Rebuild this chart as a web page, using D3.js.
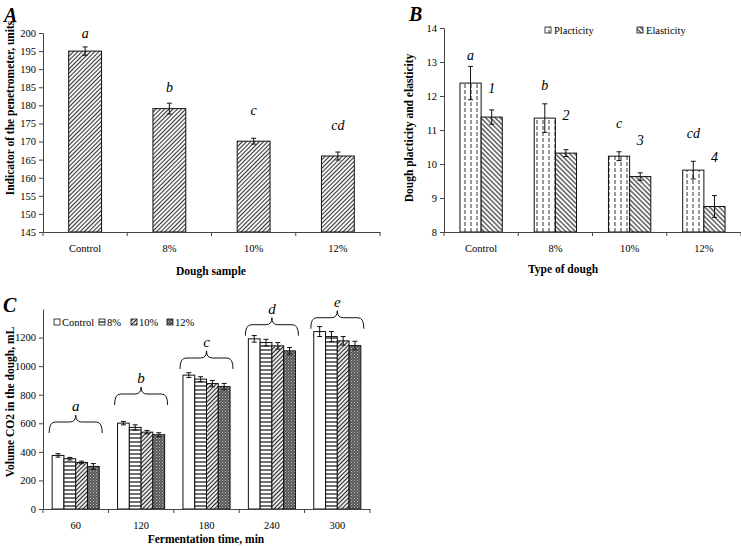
<!DOCTYPE html>
<html><head><meta charset="utf-8">
<script src="https://cdn.jsdelivr.net/npm/d3@7"></script>
<style>
body{margin:0;background:#fff}
svg{display:block}
svg text{font-family:"Liberation Serif","Times New Roman",serif !important;fill:#000}
</style>
</head><body>
<svg id="chart" width="741" height="546"></svg>
<script>
// ---------- DATA ----------
const doughCats = ["Control", "8%", "10%", "12%"];

// Panel A
const penetrometer = [195.0, 179.1, 170.1, 166.0];
const penetrometerErr = [1.15, 1.5, 0.8, 1.1];
const penetrometerLetters = ["a", "b", "c", "cd"];
const penetrometerLetterAt = [200.0, 185.1, 178.7, 174.6];
const yTicksA = [145, 150, 155, 160, 165, 170, 175, 180, 185, 190, 195, 200];

// Panel B
const seriesB = ["Placticity", "Elasticity"];
const plasticity = [12.38, 11.35, 10.23, 9.82];
const plasticityErr = [0.49, 0.42, 0.13, 0.26];
const elasticity = [11.38, 10.32, 9.63, 8.75];
const elasticityErr = [0.21, 0.10, 0.11, 0.32];
const plasticityLetters = ["a", "b", "c", "cd"];
const elasticityLetters = ["1", "2", "3", "4"];
const plasticityLetterAt = [13.2, 12.32, 11.2, 10.9];
const elasticityLetterAt = [12.24, 11.44, 10.7, 10.2];
const yTicksB = [8, 9, 10, 11, 12, 13, 14];

// Panel C
const times = ["60", "120", "180", "240", "300"];
const seriesC = ["Control", "8%", "10%", "12%"];
const co2Control = [375, 601, 937, 1191, 1242];
const co2P8 = [352, 571, 909, 1165, 1207];
const co2P10 = [326, 538, 878, 1142, 1177];
const co2P12 = [298, 520, 857, 1107, 1144];
const co2ControlErr = [12, 12, 17, 23, 35];
const co2P8Err = [9, 18, 17, 23, 35];
const co2P10Err = [9, 12, 22, 23, 30];
const co2P12Err = [20, 14, 22, 23, 30];
const groupLetters = ["a", "b", "c", "d", "e"];
const braceAt = [532, 728, 980, 1213, 1262];
const yTicksC = [0, 200, 400, 600, 800, 1000, 1200];

// ---------- SETUP ----------
const SERIF = '"Liberation Serif","Times New Roman",serif';
const svg = d3.select("#chart");
const defs = svg.append("defs");

function hatch(id, angle, gap, stroke, bg, sw) {
  const p = defs.append("pattern").attr("id", id).attr("patternUnits", "userSpaceOnUse")
    .attr("width", gap).attr("height", gap).attr("patternTransform", `rotate(${angle})`);
  p.append("rect").attr("width", gap).attr("height", gap).attr("fill", bg);
  p.append("line").attr("x1", gap / 2).attr("y1", 0).attr("x2", gap / 2).attr("y2", gap)
    .attr("stroke", stroke).attr("stroke-width", sw);
}
hatch("hatchA", 45, 3, "#333", "#fff", 1.1);
hatch("hatchEl", -45, 3.4, "#222", "#fff", 1.1);
hatch("hatch10", 45, 3, "#222", "#fff", 1.2);
(function () {
  const p = defs.append("pattern").attr("id", "horiz").attr("patternUnits", "userSpaceOnUse")
    .attr("width", 4).attr("height", 4);
  p.append("rect").attr("width", 4).attr("height", 4).attr("fill", "#fff");
  p.append("line").attr("x1", 0).attr("y1", 2).attr("x2", 4).attr("y2", 2).attr("stroke", "#111").attr("stroke-width", 1.2);
})();
(function () {
  const p = defs.append("pattern").attr("id", "vdash").attr("patternUnits", "userSpaceOnUse")
    .attr("width", 6).attr("height", 6);
  p.append("rect").attr("width", 6).attr("height", 6).attr("fill", "#fff");
  p.append("line").attr("x1", 3).attr("y1", 0).attr("x2", 3).attr("y2", 4).attr("stroke", "#333").attr("stroke-width", 1);
})();
(function () {
  const p = defs.append("pattern").attr("id", "dark").attr("patternUnits", "userSpaceOnUse")
    .attr("width", 3).attr("height", 3);
  p.append("rect").attr("width", 3).attr("height", 3).attr("fill", "#5a5a5a");
  p.append("rect").attr("x", 0).attr("y", 0).attr("width", 1).attr("height", 1).attr("fill", "#bbb");
  p.append("rect").attr("x", 1.5).attr("y", 1.5).attr("width", 1).attr("height", 1).attr("fill", "#999");
})();

const AX = "#444";
const TICKFONT = 10.5;

function styleAxis(g) {
  g.attr("font-family", SERIF);
  g.selectAll("path.domain").attr("stroke", AX);
  g.selectAll(".tick line").attr("stroke", AX);
  g.selectAll("text").style("font-family", SERIF).attr("font-size", TICKFONT).attr("fill", "#000");
}

function catAxis(xBand, yPix, pad) {
  const g = svg.append("g").attr("transform", `translate(0,${yPix})`)
    .call(d3.axisBottom(xBand).tickSize(0).tickPadding(pad));
  styleAxis(g);
  const bounds = xBand.domain().map(d => xBand(d)).concat([xBand.range()[1]]);
  g.selectAll("line.bnd").data(bounds).enter().append("line").attr("class", "bnd")
    .attr("x1", d => d).attr("x2", d => d).attr("y1", 0).attr("y2", 4).attr("stroke", AX);
  return g;
}

function errBar(g, x, yTop, yBot, cap) {
  g.append("line").attr("x1", x).attr("x2", x).attr("y1", yTop).attr("y2", yBot).attr("stroke", "#111").attr("stroke-width", 1);
  g.append("line").attr("x1", x - cap).attr("x2", x + cap).attr("y1", yTop).attr("y2", yTop).attr("stroke", "#111");
  g.append("line").attr("x1", x - cap).attr("x2", x + cap).attr("y1", yBot).attr("y2", yBot).attr("stroke", "#111");
}

function panelLetter(x, y, t) {
  svg.append("text").attr("x", x).attr("y", y).attr("font-size", 20).attr("font-weight", "bold")
    .attr("font-style", "italic").text(t);
}
function yTitle(x, y, t) {
  svg.append("text").attr("transform", `translate(${x},${y}) rotate(-90)`).attr("text-anchor", "middle")
    .attr("font-size", 11.5).attr("font-weight", "bold").text(t);
}
function xTitle(x, y, t) {
  svg.append("text").attr("x", x).attr("y", y).attr("text-anchor", "middle")
    .attr("font-size", 11.5).attr("font-weight", "bold").text(t);
}
function italicLabel(x, y, t, size) {
  svg.append("text").attr("x", x).attr("y", y).attr("text-anchor", "middle").attr("dy", "0.35em")
    .attr("font-size", size || 14).attr("font-style", "italic").text(t);
}

// ---------- PANEL A ----------
{
  const x = d3.scaleBand().domain(doughCats).range([43, 380]).padding(0);
  const y = d3.scaleLinear().domain([145, 200]).range([232, 33]);
  const bw = x.step() * 0.39;
  const g = svg.append("g");
  doughCats.forEach((c, i) => {
    const cx = x(c) + x.bandwidth() / 2;
    g.append("rect").attr("x", cx - bw / 2).attr("y", y(penetrometer[i])).attr("width", bw)
      .attr("height", y(145) - y(penetrometer[i])).attr("fill", "url(#hatchA)").attr("stroke", "#111").attr("stroke-width", 1);
    errBar(g, cx, y(penetrometer[i] + penetrometerErr[i]), y(penetrometer[i] - penetrometerErr[i]), 2.5);
    italicLabel(cx, y(penetrometerLetterAt[i]), penetrometerLetters[i]);
  });
  const ya = svg.append("g").attr("transform", "translate(43,0)")
    .call(d3.axisLeft(y).tickValues(yTicksA).tickFormat(d3.format("d")).tickSize(4).tickSizeOuter(0).tickPadding(3));
  styleAxis(ya);
  catAxis(x, 232, 13);
  panelLetter(4, 22, "A");
  yTitle(14, 108, "Indicator of the penetrometer, units");
  xTitle(211, 275, "Dough sample");
}

// ---------- PANEL B ----------
{
  const x = d3.scaleBand().domain(doughCats).range([444, 741]).padding(0);
  const y = d3.scaleLinear().domain([8, 14]).range([232, 28]);
  const inner = d3.scaleBand().domain(seriesB).range([-x.step() * 0.285, x.step() * 0.285]).padding(0);
  const fills = ["url(#vdash)", "url(#hatchEl)"];
  const vals = [plasticity, elasticity];
  const errs = [plasticityErr, elasticityErr];
  const letters = [plasticityLetters, elasticityLetters];
  const letterAt = [plasticityLetterAt, elasticityLetterAt];
  const g = svg.append("g");
  doughCats.forEach((c, i) => {
    const cx = x(c) + x.bandwidth() / 2;
    seriesB.forEach((s, j) => {
      const bx = cx + inner(s);
      const v = vals[j][i];
      g.append("rect").attr("x", bx).attr("y", y(v)).attr("width", inner.bandwidth())
        .attr("height", y(8) - y(v)).attr("fill", fills[j]).attr("stroke", "#111").attr("stroke-width", 1);
      const mx = bx + inner.bandwidth() / 2;
      errBar(g, mx, y(v + errs[j][i]), y(v - errs[j][i]), 2.5);
      italicLabel(mx, y(letterAt[j][i]), letters[j][i]);
    });
  });
  const ya = svg.append("g").attr("transform", "translate(444,0)")
    .call(d3.axisLeft(y).tickValues(yTicksB).tickFormat(d3.format("d")).tickSize(4).tickSizeOuter(0).tickPadding(3));
  styleAxis(ya);
  catAxis(x, 232, 13);
  panelLetter(409, 21, "B");
  yTitle(413, 128, "Dough placticity and elasticity");
  xTitle(563, 273, "Type of dough");
  const lx = [545, 637];
  seriesB.forEach((s, j) => {
    svg.append("rect").attr("x", lx[j]).attr("y", 27).attr("width", 6).attr("height", 6)
      .attr("fill", fills[j]).attr("stroke", "#111").attr("stroke-width", 0.8);
    svg.append("text").attr("x", lx[j] + 9).attr("y", 30).attr("dy", "0.35em").attr("font-size", TICKFONT).text(s);
  });
}

// ---------- PANEL C ----------
{
  const x = d3.scaleBand().domain(times).range([43, 370]).padding(0);
  const y = d3.scaleLinear().domain([0, 1400]).range([509, 309]);
  const inner = d3.scaleBand().domain(seriesC).range([-x.step() * 0.36, x.step() * 0.36]).padding(0);
  const fills = ["#fff", "url(#horiz)", "url(#hatch10)", "url(#dark)"];
  const vals = [co2Control, co2P8, co2P10, co2P12];
  const errs = [co2ControlErr, co2P8Err, co2P10Err, co2P12Err];
  const g = svg.append("g");
  times.forEach((t, i) => {
    const cx = x(t) + x.bandwidth() / 2;
    seriesC.forEach((s, j) => {
      const bx = cx + inner(s);
      const v = vals[j][i];
      g.append("rect").attr("x", bx).attr("y", y(v)).attr("width", inner.bandwidth())
        .attr("height", y(0) - y(v)).attr("fill", fills[j]).attr("stroke", "#111").attr("stroke-width", 1);
      errBar(g, bx + inner.bandwidth() / 2, y(v + errs[j][i]), y(v - errs[j][i]), 2.5);
    });
    const x0 = cx + inner.range()[0] - 3, x1 = cx + inner.range()[1] + 3;
    const yE = y(braceAt[i]), yM = yE - 11, yT = yE - 18, q = 6;
    const path = `M${x0},${yE} Q${x0},${yM} ${x0 + q},${yM} L${cx - q},${yM} Q${cx},${yM} ${cx},${yT} Q${cx},${yM} ${cx + q},${yM} L${x1 - q},${yM} Q${x1},${yM} ${x1},${yE}`;
    g.append("path").attr("d", path).attr("fill", "none").attr("stroke", "#111").attr("stroke-width", 1);
    italicLabel(cx, yT - 9, groupLetters[i], 15);
  });
  const ya = svg.append("g").attr("transform", "translate(43,0)")
    .call(d3.axisLeft(y).tickValues(yTicksC).tickFormat(d3.format("d")).tickSize(4).tickSizeOuter(0).tickPadding(3));
  styleAxis(ya);
  catAxis(x, 509, 13);
  panelLetter(3, 312, "C");
  yTitle(14, 402, "Volume CO2 in the dough, mL");
  xTitle(206, 543, "Fermentation time, min");
  const lx = [54, 99, 131, 167];
  seriesC.forEach((s, j) => {
    svg.append("rect").attr("x", lx[j]).attr("y", 319).attr("width", 6).attr("height", 6)
      .attr("fill", fills[j]).attr("stroke", "#111").attr("stroke-width", 0.8);
    svg.append("text").attr("x", lx[j] + 8).attr("y", 322).attr("dy", "0.35em").attr("font-size", TICKFONT).text(s);
  });
}
</script>
</body></html>
